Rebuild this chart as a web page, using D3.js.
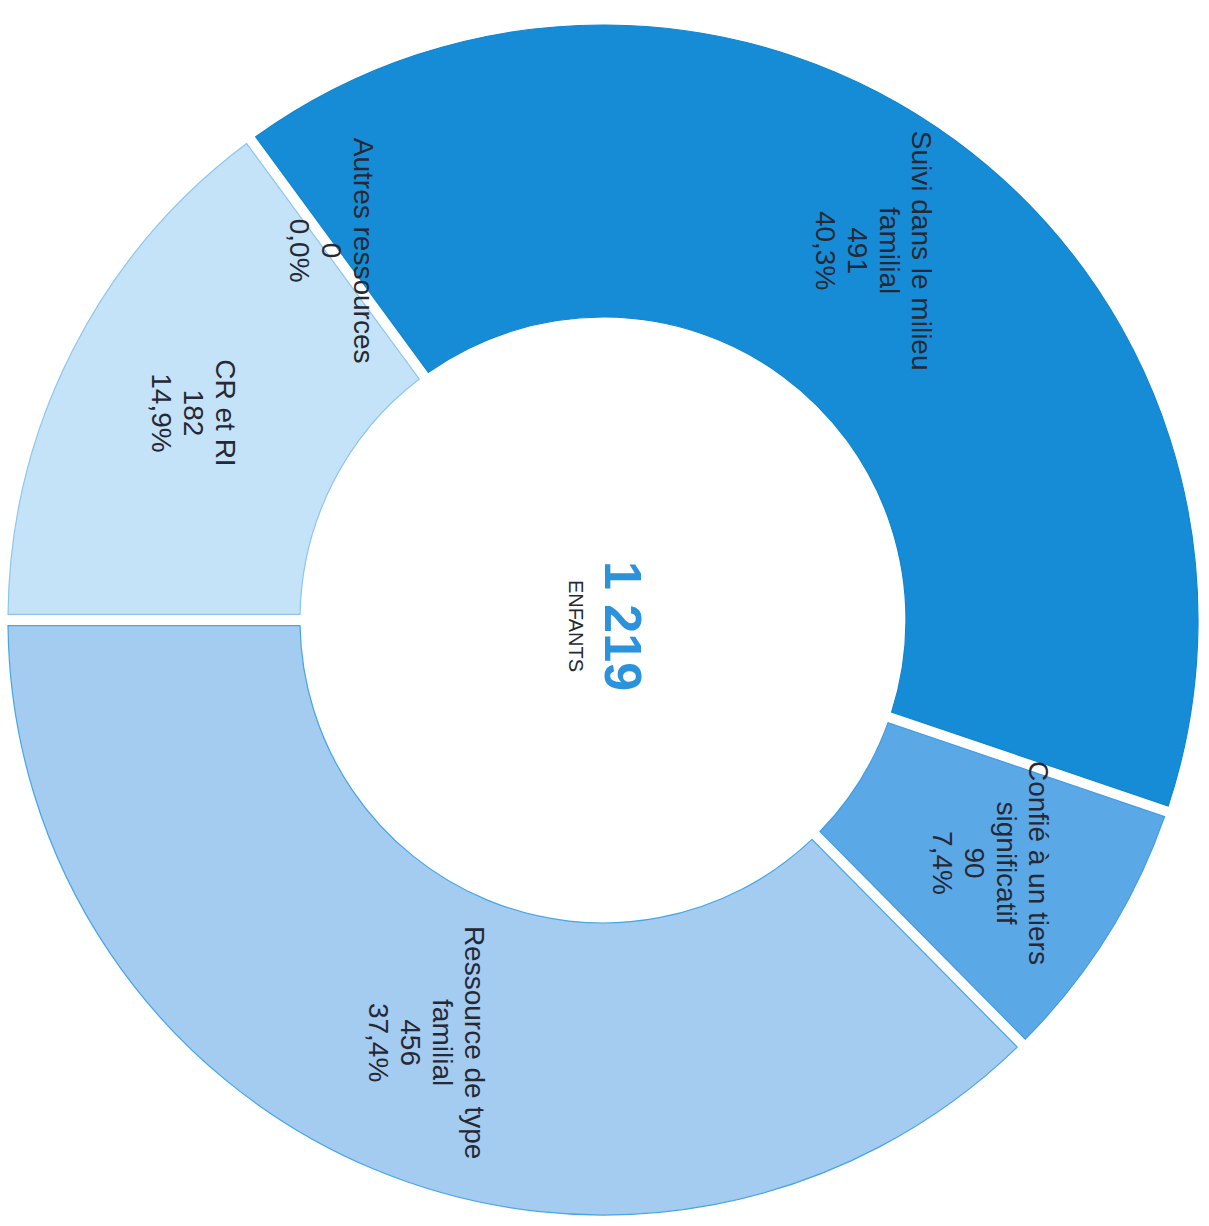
<!DOCTYPE html>
<html>
<head>
<meta charset="utf-8">
<script src="https://cdn.jsdelivr.net/npm/d3@7"></script>
<style>
  html, body { margin: 0; padding: 0; background: #fff; }
  svg { display: block; }
</style>
</head>
<body>
<div id="chart"></div>
<script>
// slices, clockwise from 6 o'clock of the (unrotated) donut
var categories = ["CR et RI", "Autres ressources", "Suivi dans le milieu familial", "Confié à un tiers significatif", "Ressource de type familial"];
var labelLines = [["CR et RI"], ["Autres ressources"], ["Suivi dans le milieu", "familial"], ["Confié à un tiers", "significatif"], ["Ressource de type", "familial"]];
var values = [182, 0, 491, 90, 456];
var percents = ["14,9%", "0,0%", "40,3%", "7,4%", "37,4%"];
var colors = ["#c4e2f8", "#c4e2f8", "#168cd6", "#5ba8e7", "#a4cbf0"];
var strokes = ["#8cc6ee", "#8cc6ee", "#1086d0", "#3f9de2", "#45a6e6"];
var totalLabel = "1 219";
var totalSub = "ENFANTS";

var width = 1209, height = 1226;
var cx = 603, cy = 620, rOuter = 595, rInner = 303;

var svg = d3.select("#chart").append("svg")
  .attr("width", width)
  .attr("height", height);

// the whole chart is turned a quarter turn clockwise, as in the scan
var g = svg.append("g")
  .attr("transform", "translate(" + cx + "," + cy + ") rotate(90)");

var pie = d3.pie()
  .sort(null)
  .value(function(d) { return d.value; })
  .startAngle(Math.PI)
  .endAngle(3 * Math.PI);

var arc = d3.arc()
  .innerRadius(rInner)
  .outerRadius(rOuter)
  .padAngle(0.019)
  .padRadius(rOuter);

var labelArc = d3.arc()
  .innerRadius(458)
  .outerRadius(458);

var data = categories.map(function(c, i) {
  return { name: c, value: values[i], lines: labelLines[i], pct: percents[i], color: colors[i], stroke: strokes[i] };
});

var arcs = pie(data);

g.selectAll("path.slice")
  .data(arcs.filter(function(d) { return d.data.value > 0; }))
  .enter().append("path")
  .attr("class", "slice")
  .attr("d", arc)
  .style("fill", function(d) { return d.data.color; })
  .style("stroke", function(d) { return d.data.stroke; })
  .style("stroke-width", 1.2);

var lineH = 32;
var labels = g.selectAll("text.lbl")
  .data(arcs)
  .enter().append("text")
  .attr("class", "lbl")
  .attr("transform", function(d) {
    var p = labelArc.centroid(d);
    return "translate(" + p[0] + "," + p[1] + ")";
  })
  .style("font-family", "'Liberation Sans', Arial, sans-serif")
  .style("font-size", "28px")
  .style("fill", "#262833")
  .attr("text-anchor", "middle");

labels.each(function(d) {
  var lines = d.data.lines.concat([String(d.data.value), d.data.pct]);
  var t = d3.select(this);
  var y0 = -(lines.length - 1) * lineH / 2 + 10;
  lines.forEach(function(l, i) {
    t.append("tspan").attr("x", 0).attr("y", y0 + i * lineH).text(l);
  });
});

g.append("text")
  .attr("x", 6)
  .attr("y", -2)
  .attr("text-anchor", "middle")
  .style("font-family", "'Liberation Sans', Arial, sans-serif")
  .style("font-size", "52px")
  .style("font-weight", "bold")
  .style("fill", "#2a93dc")
  .text(totalLabel);

g.append("text")
  .attr("x", 6)
  .attr("y", 34)
  .attr("text-anchor", "middle")
  .style("font-family", "'Liberation Sans', Arial, sans-serif")
  .style("font-size", "20px")
  .style("fill", "#262833")
  .text(totalSub);
</script>
</body>
</html>
